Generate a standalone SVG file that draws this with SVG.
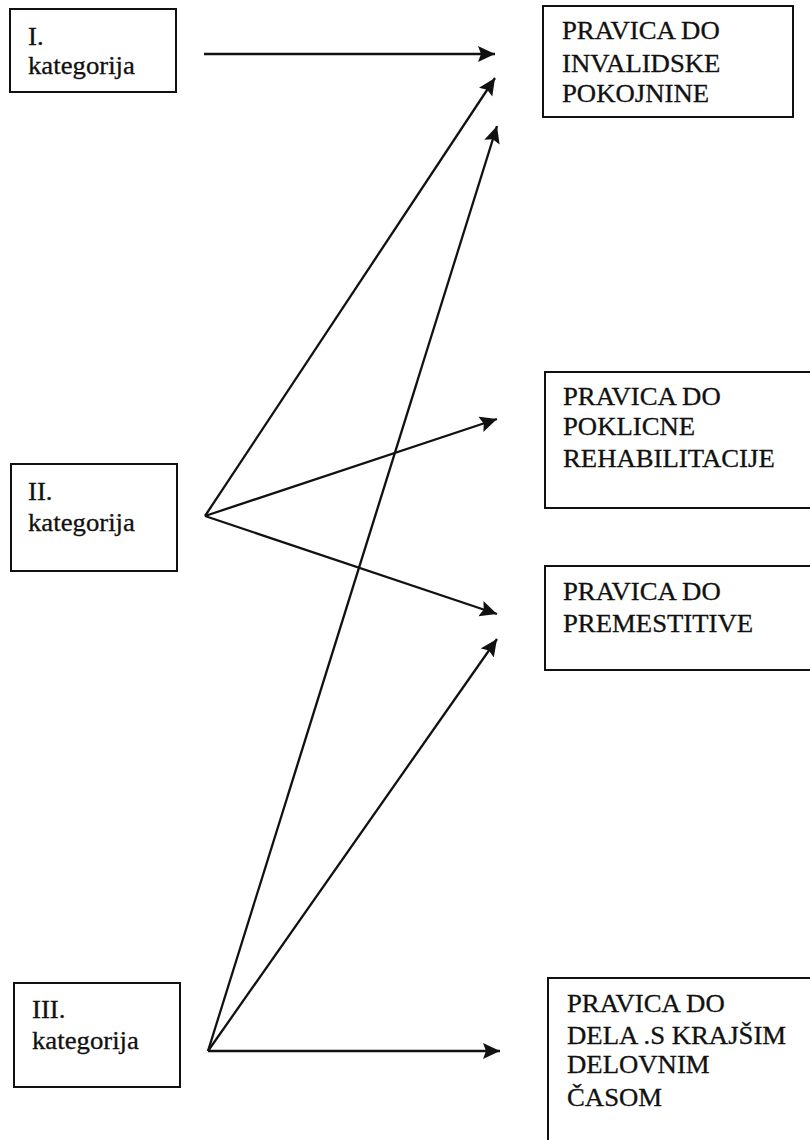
<svg xmlns="http://www.w3.org/2000/svg" width="810" height="1140" viewBox="0 0 810 1140">
<style>
.box{fill:#fff;stroke:#111;stroke-width:2}
.t{font-family:"Liberation Serif","Times New Roman",serif;font-size:25px;fill:#111;stroke:#111;stroke-width:0.3}
.c{stroke:#111;stroke-width:2.3;fill:none;marker-end:url(#ah)}
</style>
<defs>
<marker id="ah" markerUnits="userSpaceOnUse" markerWidth="19" markerHeight="17" refX="17" refY="8" orient="auto">
<path d="M0,0 L17,8 L0,16 L3,8 Z" fill="#111"/>
</marker>
</defs>
<rect width="810" height="1140" fill="#fff"/>
<g id="connectors">
<line class="c" x1="204" y1="54" x2="495" y2="54"/>
<line class="c" x1="205" y1="516" x2="495" y2="78"/>
<line class="c" x1="208" y1="1051" x2="497" y2="126"/>
<line class="c" x1="205" y1="516" x2="497" y2="419"/>
<line class="c" x1="205" y1="516" x2="497" y2="614"/>
<line class="c" x1="208" y1="1051" x2="497" y2="639"/>
<line class="c" x1="208" y1="1051" x2="500" y2="1051"/>
</g>
<g id="kat1">
<rect class="box" x="10" y="9" width="166" height="83"/>
<text class="t" transform="matrix(1.07 0 0 1 28 45)"><tspan x="0" y="0">I.</tspan><tspan x="0" y="29">kategorija</tspan></text>
</g>
<g id="kat2">
<rect class="box" x="11" y="464" width="166" height="107"/>
<text class="t" transform="matrix(1.07 0 0 1 28 500)"><tspan x="0" y="0">II.</tspan><tspan x="0" y="31">kategorija</tspan></text>
</g>
<g id="kat3">
<rect class="box" x="14" y="983" width="166" height="104"/>
<text class="t" transform="matrix(1.07 0 0 1 32 1018)"><tspan x="0" y="0">III.</tspan><tspan x="0" y="31">kategorija</tspan></text>
</g>
<g id="pokojnina">
<rect class="box" x="543" y="6" width="250" height="111"/>
<text class="t" transform="matrix(1.07 0 0 1 562 39)"><tspan x="0" y="0">PRAVICA DO</tspan><tspan x="0" y="33">INVALIDSKE</tspan><tspan x="0" y="63">POKOJNINE</tspan></text>
</g>
<g id="rehabilitacija">
<rect class="box" x="545" y="372" width="280" height="136"/>
<text class="t" transform="matrix(1.07 0 0 1 563 405)"><tspan x="0" y="0">PRAVICA DO</tspan><tspan x="0" y="30">POKLICNE</tspan><tspan x="0" y="62">REHABILITACIJE</tspan></text>
</g>
<g id="premestitev">
<rect class="box" x="545" y="566" width="280" height="104"/>
<text class="t" transform="matrix(1.07 0 0 1 563 600)"><tspan x="0" y="0">PRAVICA DO</tspan><tspan x="0" y="32">PREMESTITIVE</tspan></text>
</g>
<g id="krajsi">
<rect class="box" x="548" y="978" width="280" height="180"/>
<text class="t" transform="matrix(1.07 0 0 1 567 1012)"><tspan x="0" y="0">PRAVICA DO</tspan><tspan x="0" y="32">DELA .S KRAJŠIM</tspan><tspan x="0" y="61">DELOVNIM</tspan><tspan x="0" y="94">ČASOM</tspan></text>
</g>
</svg>
